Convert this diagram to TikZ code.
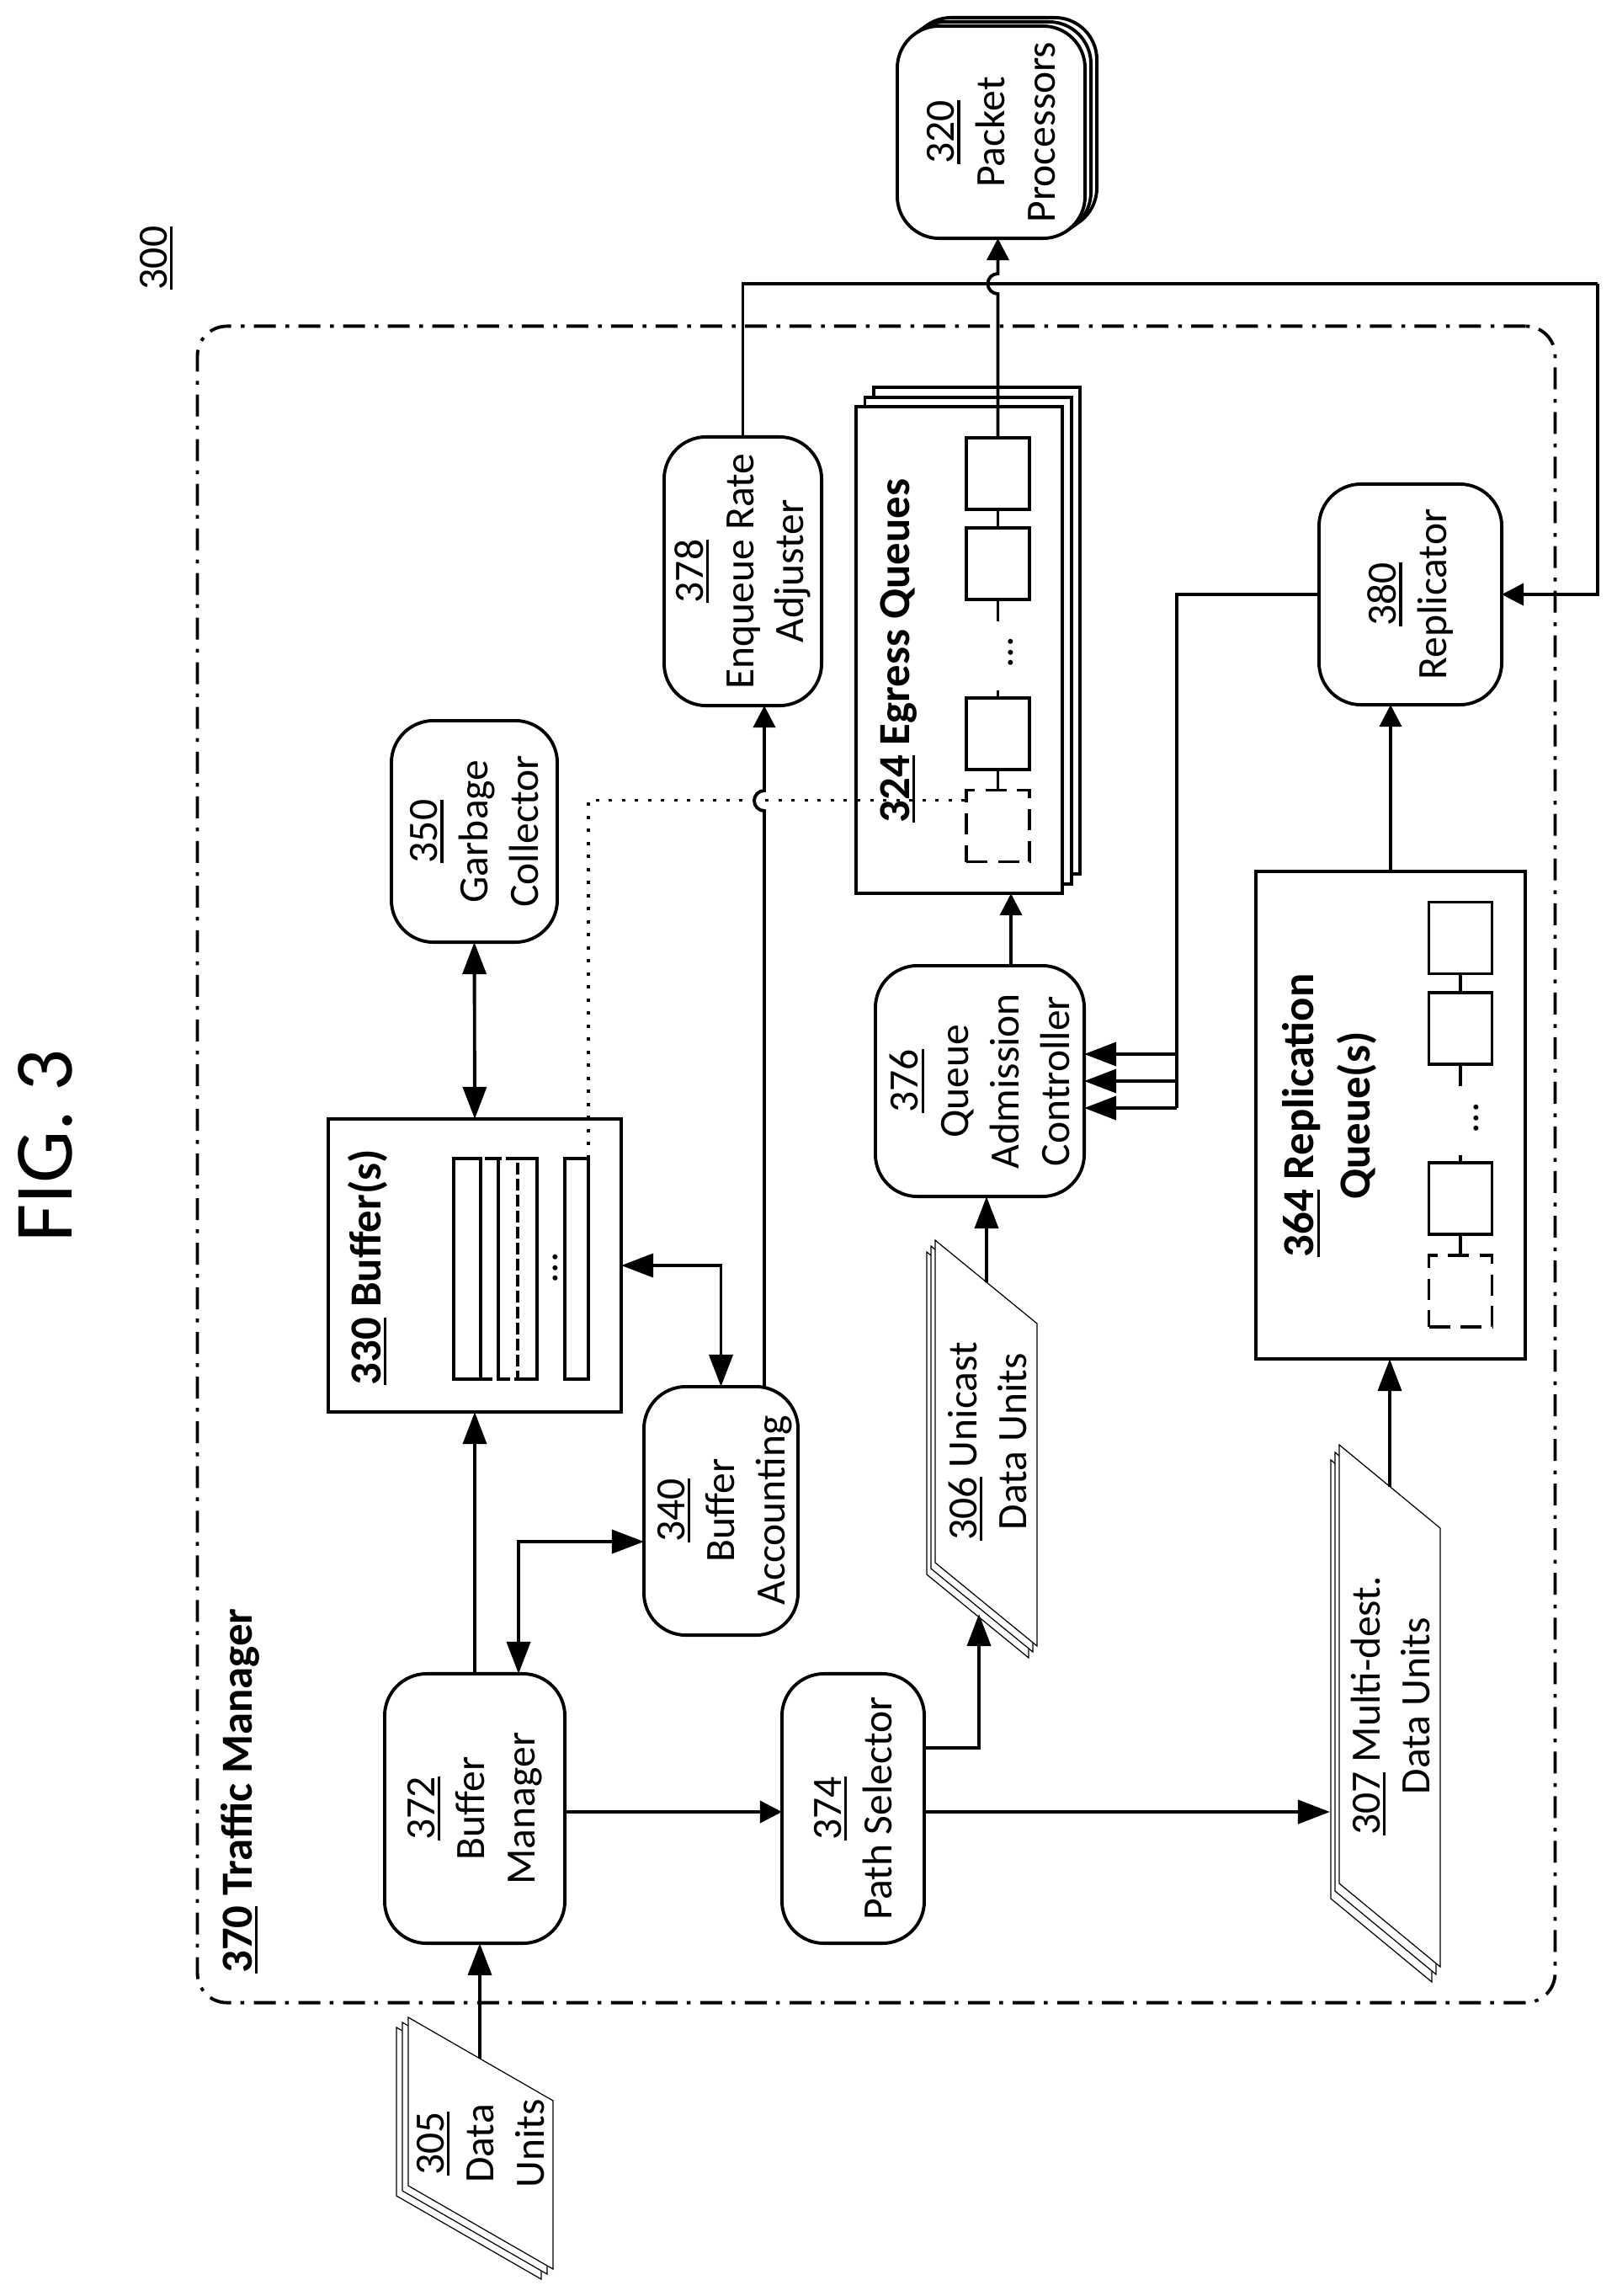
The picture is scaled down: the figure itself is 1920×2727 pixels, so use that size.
\documentclass[tikz,border=0pt]{standalone}
\usepackage{fontspec}
\setmainfont{Carlito}
\usetikzlibrary{arrows.meta}

\newcommand{\refnum}[1]{\setbox0\hbox{#1}\rlap{\rule[-0.14em]{\wd0}{0.065em}}\box0\relax}

\tikzset{
  stage/.style={draw, fill=white, rotate=90, line width=1.1pt, rounded corners=0.5cm, inner sep=0pt, outer sep=0pt, align=center, font=\fontsize{14.1pt}{17pt}\selectfont},
  block/.style={draw, fill=white, line width=1.1pt, inner sep=0pt, outer sep=0pt},
  cell/.style={block, minimum width=0.75cm, minimum height=0.85cm},
  ghostcell/.style={cell, dash pattern=on 0.25cm off 0.125cm},
  strip/.style={block, fill=none, minimum height=2.62cm},
  ghoststrip/.style={strip, dash pattern=on 0.14cm off 0.05cm},
  tag/.style={rotate=90, inner sep=0pt, align=center, font=\fontsize{14.1pt}{17pt}\selectfont},
  boldtag/.style={rotate=90, inner sep=0pt, align=center, font=\fontsize{15pt}{19pt}\selectfont\bfseries},
  sheet/.style={draw, fill=white, line width=0.35pt},
  flow/.style={line width=1.1pt, >={Triangle[length=0.26cm,width=0.26cm]}, ->},
  bigflow/.style={line width=1.1pt, >={Triangle[length=0.38cm,width=0.28cm]}, ->},
  wire/.style={line width=1.1pt},
  dotline/.style={line width=1pt, dash pattern=on 0.04cm off 0.115cm},
  tmframe/.style={draw, rounded corners=0.35cm, line width=1.1pt, dash pattern=on 0.26cm off 0.11cm on 0.045cm off 0.115cm, inner sep=0pt, outer sep=0pt}
}

\begin{document}
\begin{tikzpicture}[x=0.01cm, y=0.01cm]

\useasboundingbox (0,0) rectangle (1920,-2727);

\node [rotate=90, anchor=base, inner sep=0pt, font=\fontsize{28pt}{32pt}\selectfont] (figtitle) at (85,-1361) {FIG. 3};

\node [tag, anchor=base] (t300) at (198,-306.5) {\refnum{300}};

\node [tmframe, minimum width=16.12cm, minimum height=19.9cm] (tm) at (1041,-1383) {};

\node [boldtag, anchor=base] (t370) at (299,-2127) {\refnum{370} Traffic Manager};

% data units
\foreach \dx/\dy in {-14/-12, -7/-6, 0/0}
  \draw [sheet, shift={(\dx,\dy)}] (485,-2396) -- (657,-2495) -- (657,-2695) -- (485,-2596) -- cycle;

\foreach \dx/\dy in {-10/-14, -5/-7, 0/0}
  \draw [sheet, shift={(\dx,\dy)}] (1111,-1473) -- (1232,-1572) -- (1232,-1955) -- (1111,-1856) -- cycle;

\foreach \dx/\dy in {-10/-18, -5/-9, 0/0}
  \draw [sheet, shift={(\dx,\dy)}] (1591,-1716) -- (1711,-1815) -- (1711,-2336) -- (1591,-2237) -- cycle;

\node [tag] (t305) at (571,-2546) {\refnum{305}\\Data\\Units};
\node [tag] (t306) at (1173,-1712) {\refnum{306} Unicast\\Data Units};
\node [tag] (t307) at (1652,-2026) {\refnum{307} Multi-dest.\\Data Units};

\coordinate (du305) at (570,-2445);
\coordinate (du306) at (1172,-1523);
\coordinate (du306in) at (1163,-1917);
\coordinate (du307) at (1651,-1766);
\coordinate (du307in) at (1580,-2152);

% packet processors
\node [stage, minimum width=2.52cm, minimum height=2.23cm] (pp3) at (1191.5,-147) {};
\node [stage, minimum width=2.52cm, minimum height=2.23cm] (pp2) at (1184.5,-152) {};
\node [stage, minimum width=2.52cm, minimum height=2.23cm] (pp) at (1177.5,-157) {\refnum{320}\\Packet\\Processors};

% egress queues
\node [block, minimum width=2.45cm, minimum height=5.78cm] (eq3) at (1160.5,-749) {};
\node [block, minimum width=2.45cm, minimum height=5.78cm] (eq2) at (1150,-761) {};
\node [block, minimum width=2.45cm, minimum height=5.78cm] (eq) at (1139.5,-772) {};

\node [boldtag, anchor=base] (t324) at (1080,-773) {\refnum{324} Egress Queues};

\node [cell] (eqa) at (1185.5,-562.5) {};
\node [cell] (eqb) at (1185.5,-669.5) {};
\node [cell] (eqc) at (1185.5,-871.5) {};
\node [ghostcell] (eqd) at (1185.5,-981) {};
\node [tag, anchor=base] (eqdots) at (1203,-775) {...};

\draw [wire] (eqa) -- (eqb);
\draw [wire] (eqb) -- ++(0,-68);
\draw [wire] (eqc) -- ++(0,52);
\draw [wire] (eqc) -- (eqd.north);

% replication queues
\node [block, minimum width=3.2cm, minimum height=5.79cm] (rq) at (1652,-1324.5) {};

\node [boldtag] (t364) at (1579.5,-1325) {\refnum{364} Replication\\Queue(s)};

\node [cell] (rqa) at (1735,-1114) {};
\node [cell] (rqb) at (1735,-1221.5) {};
\node [cell] (rqc) at (1735,-1423.5) {};
\node [ghostcell] (rqd) at (1735,-1533.5) {};
\node [tag, anchor=base] (rqdots) at (1756,-1328) {...};

\draw [wire] (rqa) -- (rqb);
\draw [wire] (rqb) -- ++(0,-68);
\draw [wire] (rqc) -- ++(0,52);
\draw [wire] (rqc) -- (rqd.north);

% buffers
\node [block, minimum width=3.48cm, minimum height=3.48cm] (buf) at (564,-1503) {};

\node [boldtag, anchor=base] (t330) at (452,-1505) {\refnum{330} Buffer(s)};

\node [strip, minimum width=0.32cm] (sa) at (555,-1507) {};
\node [ghoststrip, minimum width=0.21cm] (sb) at (581.5,-1507) {};
\node [ghoststrip, minimum width=0.23cm] (sc) at (603.5,-1507) {};
\node [strip, draw=none, minimum width=0.23cm] (sd) at (626.5,-1507) {};
\node [strip, minimum width=0.28cm] (se) at (685,-1507) {};
\node [tag, anchor=base] (bufdots) at (662,-1506) {...};

\draw [wire] (sd.north west) -- (sd.north east) -- (sd.south east) -- (sd.south west);

% stages
\node [stage, minimum width=3.19cm, minimum height=1.87cm] (enq) at (882.5,-678.5) {\refnum{378}\\Enqueue Rate\\Adjuster};
\node [stage, minimum width=2.62cm, minimum height=2.17cm] (rep) at (1675.5,-706) {\refnum{380}\\Replicator};
\node [stage, minimum width=2.63cm, minimum height=1.97cm] (gc) at (563.5,-987.5) {\refnum{350}\\Garbage\\Collector};
\node [stage, minimum width=3.2cm, minimum height=2.14cm] (mgr) at (564,-2148) {\refnum{372}\\Buffer\\Manager};
\node [stage, minimum width=2.95cm, minimum height=1.83cm] (acct) at (856.5,-1794.5) {};
\node [stage, minimum width=3.2cm, minimum height=1.69cm] (path) at (1013.5,-2148) {\refnum{374}\\Path Selector};
\node [stage, minimum width=2.74cm, minimum height=2.48cm] (ctl) at (1164,-1284) {\refnum{376}\\Queue\\Admission\\Controller};

\node [tag] (t340) at (861,-1794) {\refnum{340}\\Buffer\\Accounting};

% connectors
\coordinate (hopq) at (1185.5,-349);
\coordinate (hopb) at (908,-963);
\coordinate (ret) at (1898,-337);
\coordinate (midl) at (800,-2152);
\coordinate (bus) at (1398,-1284);

\draw [bigflow] (du305) -- (du305 |- mgr.west);

\draw [bigflow] (mgr.east) -- (buf.south);

\draw [bigflow, <->] ([yshift=-0.365cm]acct.north) -| ([xshift=0.52cm]mgr.east);

\draw [bigflow, <->] (buf.east) -| (acct.east);

\draw [bigflow, <->] (gc.west) -- (buf.north);

\draw [flow] ([xshift=0.515cm, yshift=-0.02cm]acct.east) -- (hopb) arc[start angle=-90, end angle=-270, radius=0.12cm] -- (hopb |- enq.west);

\draw [wire] (enq.east) |- (ret);

\draw [flow] (ret) |- (rep.south);

\draw [flow] (eqa) -- (hopq) arc[start angle=-90, end angle=-270, radius=0.12cm] -- (hopq |- pp.west);

\draw [flow] (midl -| mgr.south) -- (midl -| path.north);

\draw [bigflow] (midl -| path.south) -- (du307in);

\draw [bigflow] ([yshift=0.72cm]path.south) -| (du306in);

\draw [bigflow] (du306) -- (du306 |- ctl.west);

\draw [flow] ([xshift=0.37cm]ctl.east) -- ([xshift=0.37cm]ctl.east |- eq.south);

\draw [bigflow] (du307) -- (du307 |- rq.south);

\draw [flow] (rq.north) -- (rq.north |- rep.west);

\draw [wire] (rep.north) -| ([yshift=-0.32cm]bus);

\foreach \o in {-0.32,0,0.32}
  \draw [bigflow] ([yshift=\o cm]bus) -- ([yshift=\o cm]ctl.south);

\draw [dotline] (se.north east) |- ([yshift=-0.12cm]eqd.north west);

\end{tikzpicture}
\end{document}
